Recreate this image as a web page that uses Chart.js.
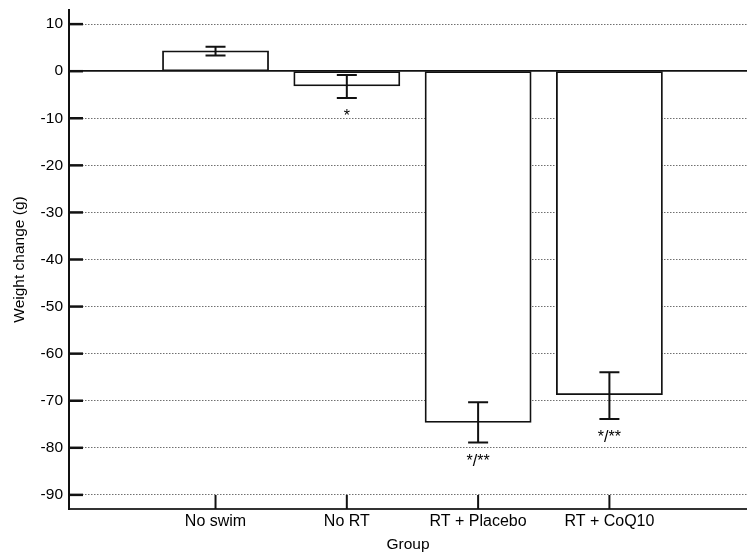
<!DOCTYPE html>
<html>
<head>
<meta charset="utf-8">
<script src="https://cdn.jsdelivr.net/npm/chart.js@4/dist/chart.umd.min.js"></script>
<style>
html,body{margin:0;padding:0;background:#fff;}
#wrap{width:747px;height:552px;position:relative;}
</style>
</head>
<body>
<div id="wrap"><canvas id="c"></canvas></div>
<script>
const categories = ['No swim', 'No RT', 'RT + Placebo', 'RT + CoQ10'];
const categoryPositions = [1, 2, 3, 4];
const weightChange = [4.2, -3.0, -74.5, -68.6];
const errorUpper = [1.0, 2.2, 4.2, 4.65];
const errorLower = [0.85, 2.7, 4.4, 5.3];
const significance = ['', '*', '*/**', '*/**'];
const yTickValues = [10, 0, -10, -20, -30, -40, -50, -60, -70, -80, -90];

const FONT = '"Liberation Sans", Arial, sans-serif';

const decorPlugin = {
  id: 'decor',
  afterDatasetsDraw(chart) {
    const ctx = chart.ctx;
    const xs = chart.scales.x, ys = chart.scales.y;
    const area = chart.chartArea;
    ctx.save();
    // error bars
    ctx.strokeStyle = '#111';
    ctx.lineWidth = 2;
    for (let i = 0; i < weightChange.length; i++) {
      const x = xs.getPixelForValue(categoryPositions[i]);
      const yHi = ys.getPixelForValue(weightChange[i] + errorUpper[i]);
      const yLo = ys.getPixelForValue(weightChange[i] - errorLower[i]);
      ctx.beginPath();
      ctx.moveTo(x, yHi); ctx.lineTo(x, yLo);
      ctx.moveTo(x - 10, yHi); ctx.lineTo(x + 10, yHi);
      ctx.moveTo(x - 10, yLo); ctx.lineTo(x + 10, yLo);
      ctx.stroke();
      if (significance[i]) {
        ctx.fillStyle = '#000';
        ctx.font = '16px ' + FONT;
        ctx.textAlign = 'center';
        ctx.textBaseline = 'alphabetic';
        ctx.fillText(significance[i], x, yLo + 23);
      }
    }
    // inward tick marks on y axis
    ctx.strokeStyle = '#111';
    ctx.lineWidth = 2.5;
    ys.ticks.forEach(t => {
      const y = ys.getPixelForValue(t.value);
      ctx.beginPath();
      ctx.moveTo(area.left, y); ctx.lineTo(area.left + 14, y);
      ctx.stroke();
    });
    // inward tick marks on x axis
    ctx.lineWidth = 2;
    xs.ticks.forEach(t => {
      const x = xs.getPixelForValue(t.value);
      ctx.beginPath();
      ctx.moveTo(x, area.bottom); ctx.lineTo(x, area.bottom - 14);
      ctx.stroke();
    });
    ctx.restore();
  }
};

new Chart(document.getElementById('c'), {
  type: 'bar',
  data: {
    datasets: [{
      data: categoryPositions.map((p, i) => ({x: p, y: weightChange[i]})),
      backgroundColor: '#ffffff',
      borderColor: '#111',
      borderWidth: 1.8,
      borderSkipped: false,
      inflateAmount: 0.9,
      barPercentage: 1.0,
      categoryPercentage: 0.8
    }]
  },
  options: {
    responsive: true,
    maintainAspectRatio: false,
    animation: false,
    devicePixelRatio: 1,
    layout: {padding: {top: 10, right: 0, bottom: 0, left: 0}},
    plugins: {legend: {display: false}, tooltip: {enabled: false}},
    scales: {
      x: {
        type: 'linear',
        offset: false,
        min: -0.116,
        max: 5.048,
        afterFit: s => { s.height = 43; s.paddingLeft = 0; s.paddingRight = 0; },
        afterBuildTicks: s => { s.ticks = categoryPositions.map(v => ({value: v})); },
        grid: {display: false, offset: false, drawTicks: false},
        border: {display: true, color: '#333', width: 2},
        ticks: {
          padding: 3,
          color: '#000',
          font: {family: FONT, size: 16},
          maxRotation: 0,
          autoSkip: false,
          callback: v => categories[categoryPositions.indexOf(v)]
        },
        title: {
          display: true,
          text: 'Group',
          color: '#000',
          font: {family: FONT, size: 15.5, lineHeight: 1},
          padding: {top: 0, bottom: 0}
        }
      },
      y: {
        type: 'linear',
        min: -93,
        max: 13,
        afterFit: s => { s.width = 69; s.paddingTop = 0; s.paddingBottom = 0; },
        afterBuildTicks: s => { s.ticks = yTickValues.map(v => ({value: v})); },
        grid: {
          drawTicks: false,
          color: ctx => (ctx.tick && ctx.tick.value === 0) ? '#111' : '#707070',
          lineWidth: ctx => (ctx.tick && ctx.tick.value === 0) ? 1.8 : 1
        },
        border: {
          display: true,
          color: '#111',
          width: 2,
          dash: ctx => (ctx.tick && ctx.tick.value === 0) ? [] : [1.5, 1.5]
        },
        ticks: {
          padding: 6,
          color: '#000',
          font: {family: FONT, size: 15.5}
        },
        title: {
          display: true,
          text: 'Weight change (g)',
          color: '#000',
          font: {family: FONT, size: 15.5, lineHeight: 1.2},
          padding: {top: 10.7, bottom: 0}
        }
      }
    }
  },
  plugins: [decorPlugin]
});
</script>
</body>
</html>
